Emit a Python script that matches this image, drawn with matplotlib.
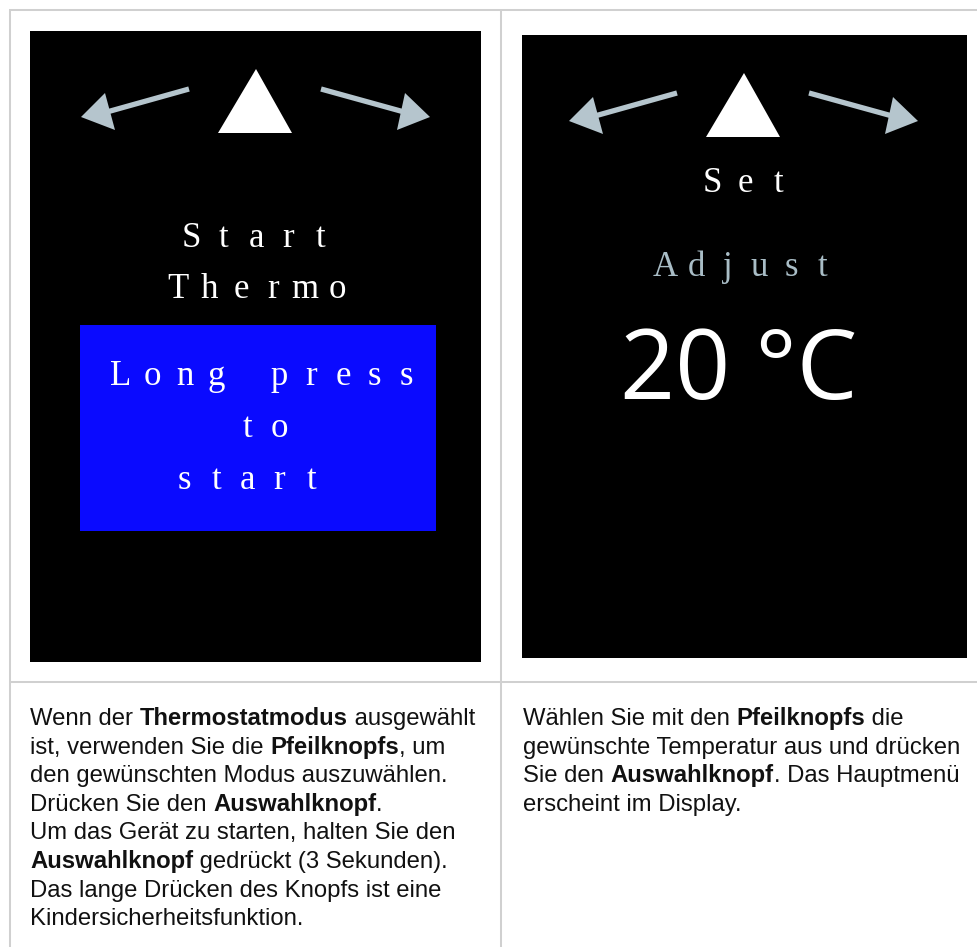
import matplotlib
matplotlib.use("Agg")
from matplotlib import pyplot as plt
from matplotlib.patches import Rectangle, Polygon

# --- content -------------------------------------------------------------
left_screen_labels = ["Start", "Thermo"]
left_box_lines = [" Long press", "     to", "   start"]
right_screen_labels = ["Set", "Adjust"]
right_temp = "20 °C"

# paragraph text, as (segment, bold) pieces per line
left_par = [
  [("Wenn der ", False), ("Thermostatmodus", True), (" ausgewählt", False)],
  [("ist, verwenden Sie die ", False), ("Pfeilknopfs", True), (", um", False)],
  [("den gewünschten Modus auszuwählen.", False)],
  [("Drücken Sie den ", False), ("Auswahlknopf", True), (".", False)],
  [("Um das Gerät zu starten, halten Sie den", False)],
  [("Auswahlknopf", True), (" gedrückt (3 Sekunden).", False)],
  [("Das lange Drücken des Knopfs ist eine", False)],
  [("Kindersicherheitsfunktion.", False)],
]
right_par = [
  [("Wählen Sie mit den ", False), ("Pfeilknopfs", True), (" die", False)],
  [("gewünschte Temperatur aus und drücken", False)],
  [("Sie den ", False), ("Auswahlknopf", True), (". Das Hauptmenü", False)],
  [("erscheint im Display.", False)],
]

W, H = 978, 947
fig = plt.figure(figsize=(W / 100, H / 100), dpi=100)
ax = fig.add_axes([0, 0, 1, 1])
ax.set_xlim(0, W)
ax.set_ylim(H, 0)
ax.axis("off")

GRID = "#d0d0d0"
ARROW = "#b5c5cd"
mono = "Liberation Serif"

# table lines
ax.plot([9, W], [10, 10], color=GRID, lw=1.45, solid_capstyle="butt")
ax.plot([10, W], [682, 682], color=GRID, lw=1.45, solid_capstyle="butt")
ax.plot([10, 10], [10, H], color=GRID, lw=1.45, solid_capstyle="butt")
ax.plot([501, 501], [10, H], color=GRID, lw=1.45, solid_capstyle="butt")

# screens
ax.add_patch(Rectangle((30, 31), 451, 631, color="black", lw=0))
ax.add_patch(Rectangle((522, 35), 445, 623, color="black", lw=0))
ax.add_patch(Rectangle((80, 325), 356, 206, color="#0a0aff", lw=0))


def icons(ox, oy):
  # triangle + two arrows, relative to triangle apex
  ax.add_patch(Polygon([(ox, oy), (ox - 38, oy + 64), (ox + 36, oy + 64)],
                       closed=True, color="white", lw=0))
  for sx, sy, tx, ty, b1, b2 in [(-67, 20, -175, 48, (-151, 24), (-141, 61)),
                                 (65, 20, 174, 48, (149, 24), (141, 61))]:
    mx = (b1[0] + b2[0]) / 2 + (tx - (b1[0] + b2[0]) / 2) * 0.15
    my = (b1[1] + b2[1]) / 2 + (ty - (b1[1] + b2[1]) / 2) * 0.15
    ax.plot([ox + sx, ox + mx], [oy + sy, oy + my], color=ARROW, lw=3.8,
            solid_capstyle="butt")
    ax.add_patch(Polygon([(ox + tx, oy + ty), (ox + b1[0], oy + b1[1]),
                          (ox + b2[0], oy + b2[1])], closed=True, color=ARROW, lw=0))


icons(256, 69)
icons(744, 73)


def spaced(s, cx, y, pitch, color="white", size=25):
  x0 = cx - (len(s) - 1) * pitch / 2
  for i, ch in enumerate(s):
    if ch != " ":
      ax.text(x0 + i * pitch, y, ch, ha="center", va="baseline", color=color,
              fontsize=size, family=mono)


def grid(s, x0, y, pitch, color="white", size=25):
  for i, ch in enumerate(s):
    if ch != " ":
      ax.text(x0 + i * pitch, y, ch, ha="center", va="baseline", color=color,
              fontsize=size, family=mono)


spaced(left_screen_labels[0], 256, 247, 32.5)
spaced(left_screen_labels[1], 257.5, 298, 31.8)
for line, y in zip(left_box_lines, [385, 437, 489]):
  grid(line, 89.3, y, 31.7)

spaced(right_screen_labels[0], 745, 192, 33)
spaced(right_screen_labels[1], 744, 276, 31.4, color="#a9bdc6")
ax.text(739, 399, right_temp, ha="center", va="baseline", color="white",
        fontsize=69.5, family="Open Sans")

# paragraphs
renderer = fig.canvas.get_renderer()
PSIZE = 17.2
PFONT = "Liberation Sans"
PCOL = "#111111"


def adv(s, weight):
  t1 = ax.text(0, 0, "|" + s + "|", fontsize=PSIZE, family=PFONT, weight=weight)
  t2 = ax.text(0, 0, "||", fontsize=PSIZE, family=PFONT, weight=weight)
  w = t1.get_window_extent(renderer).width - t2.get_window_extent(renderer).width
  t1.remove()
  t2.remove()
  return w


def paragraph(lines, x0, y0, step):
  for k, line in enumerate(lines):
    x = x0
    y = y0 + k * step
    for seg, bold in line:
      weight = "bold" if bold else "normal"
      ax.text(x, y, seg, ha="left", va="baseline", fontsize=PSIZE, family=PFONT,
              weight=weight, color=PCOL)
      x += adv(seg, weight)


paragraph(left_par, 30, 725, 28.6)
paragraph(right_par, 523, 725, 28.6)

fig.savefig("out.png", dpi=100)
